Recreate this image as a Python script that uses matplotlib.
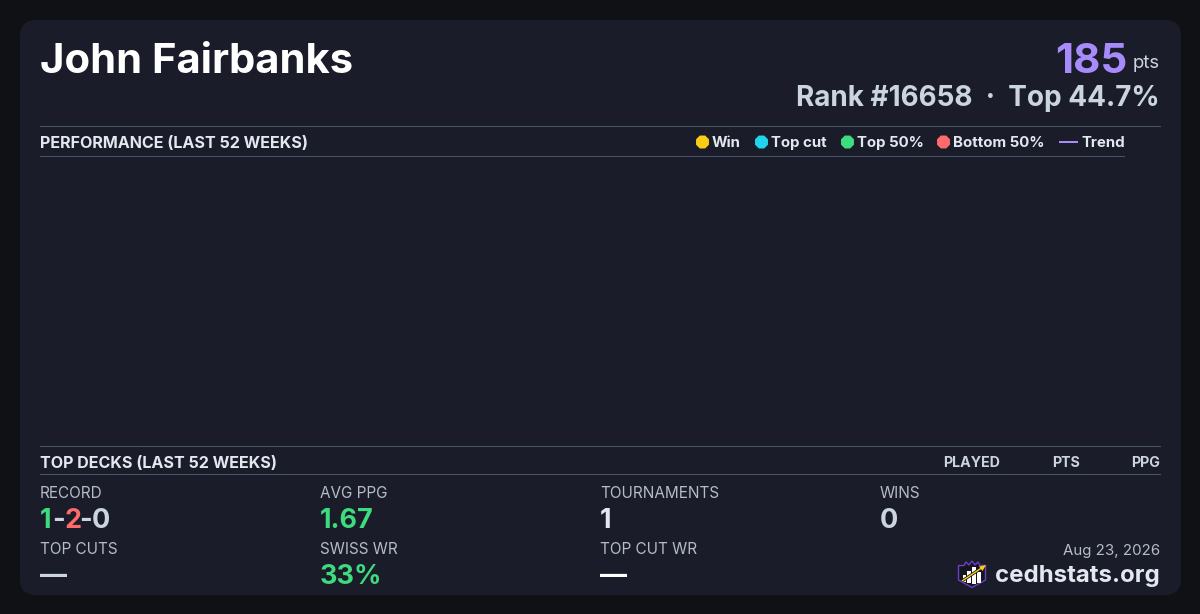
"""Player summary card."""

import math

import matplotlib

matplotlib.use("Agg")
import matplotlib.pyplot as plt
from matplotlib.patches import FancyBboxPatch, Polygon, Rectangle, RegularPolygon

plt.rcParams["font.family"] = ["Inter", "DejaVu Sans"]

BG = "#0f1115"
CARD = "#1a1d29"
RULE = "#475569"
WHITE = "#ffffff"
HEAD = "#e2e8f0"
MUTED = "#cbd5e1"
LABEL = "#b4bcc9"
GREEN = "#3ddc7e"
RED = "#ff6b6b"
PURPLE = "#a78bfa"
YELLOW = "#facc15"

player = "John Fairbanks"
points = "185"
rank_text = "Rank #16658  ·  Top 44.7%"

legend_labels = ["Win", "Top cut", "Top 50%", "Bottom 50%"]
legend_colors = [YELLOW, "#22d3ee", GREEN, RED]
legend_dot_x = [702, 761, 847, 943]

deck_columns = ["PLAYED", "PTS", "PPG"]
deck_column_right = [1000, 1080, 1160]

stat_labels = ["RECORD", "AVG PPG", "TOURNAMENTS", "WINS",
               "TOP CUTS", "SWISS WR", "TOP CUT WR"]
stat_values = [None, "1.67", "1", "0", "—", "33%", "—"]
stat_colors = [None, GREEN, HEAD, MUTED, MUTED, GREEN, WHITE]
stat_x = [40, 320, 600, 880, 40, 320, 600]
stat_label_y = [497.5, 497.5, 497.5, 497.5, 553.5, 553.5, 553.5]
stat_value_y = [528, 528, 528, 528, 584, 584, 584]

record_parts = ["1", "-", "2", "-", "0"]
record_colors = [GREEN, MUTED, RED, MUTED, MUTED]
record_x = [40, 52, 64, 79.5, 91.5]

# logo bars: left edge, top, bottom
logo_bar_left = [962.5, 967, 972, 977]
logo_bar_top = [575, 571, 567, 572]
logo_bar_bottom = [582, 583, 584, 583]
logo_bar_width = [3, 3.7, 3.7, 3.7]


def px(size):
    """Convert a pixel font size to points at 100 dpi."""
    return size * 0.72


def put(ax, x, y, s, size, color, weight="normal", ha="left"):
    return ax.text(x, y, s, fontsize=px(size), color=color, fontweight=weight,
                   ha=ha, va="baseline")


fig = plt.figure(figsize=(12, 6.14), dpi=100, facecolor=BG)
ax = fig.add_axes([0, 0, 1, 1])
ax.set_xlim(0, 1200)
ax.set_ylim(614, 0)
ax.axis("off")

ax.add_patch(FancyBboxPatch((36, 36), 1129, 543,
                            boxstyle="round,pad=16,rounding_size=16",
                            fc=CARD, ec="none"))

put(ax, 40, 73, player, 41.8, WHITE, "bold")
put(ax, 1127, 73, points, 42, PURPLE, "bold", ha="right")
put(ax, 1160, 68, "pts", 18.5, MUTED, ha="right")
put(ax, 1160, 106, rank_text, 27.9, MUTED, "bold", ha="right")

for y, right in [(126.5, 1161), (156.5, 1125), (446.5, 1161), (474.5, 1161)]:
    ax.add_patch(Rectangle((40, y - 0.5), right - 40, 1, fc=RULE, ec="none"))

put(ax, 40, 148, "PERFORMANCE (LAST 52 WEEKS)", 16.1, HEAD, "bold")
put(ax, 40, 468, "TOP DECKS (LAST 52 WEEKS)", 16.1, HEAD, "bold")

for name, color, x in zip(legend_labels, legend_colors, legend_dot_x):
    ax.add_patch(RegularPolygon((x + 0.5, 142), 8, radius=7, orientation=math.pi / 8,
                                fc=color, ec="none"))
    put(ax, x + 10, 147, name, 15, HEAD, "bold")
ax.add_patch(Rectangle((1059, 141), 19, 2, fc=PURPLE, ec="none"))
put(ax, 1081, 147, "Trend", 15, HEAD, "bold")

for name, right in zip(deck_columns, deck_column_right):
    put(ax, right, 467, name, 14.2, MUTED, "bold", ha="right")

for label, value, color, x, ly, vy in zip(stat_labels, stat_values, stat_colors,
                                          stat_x, stat_label_y, stat_value_y):
    put(ax, x, ly, label, 15.3, LABEL)
    if value is not None:
        put(ax, x, vy, value, 27, color, "bold")

for part, color, x in zip(record_parts, record_colors, record_x):
    put(ax, x, 528, part, 27, color, "bold")

put(ax, 1160, 555, "Aug 23, 2026", 15, LABEL, ha="right")
put(ax, 1160, 582, "cedhstats.org", 24, HEAD, "bold", ha="right")

# logo shield
ax.add_patch(Polygon([(958.5, 565.5), (964, 565.5), (966, 562), (969, 565), (972, 561),
                      (975, 565), (978, 562), (980, 565.5), (985.5, 565.5), (985.5, 580),
                      (972, 587.5), (958.5, 580)],
                     closed=True, fc="#14161f", ec="#6d3fc4", lw=1))
for left, top, bottom, width in zip(logo_bar_left, logo_bar_top, logo_bar_bottom,
                                    logo_bar_width):
    ax.add_patch(Rectangle((left, top), width, bottom - top, fc=WHITE, ec="none"))
ax.plot([962, 983], [581, 567], color="#14161f", lw=2.2, zorder=4, solid_capstyle="butt")
ax.plot([962, 983], [581, 567], color=YELLOW, lw=1, zorder=5, solid_capstyle="butt")
ax.add_patch(Polygon([(986, 565), (979, 566.5), (982.5, 571)], closed=True,
                     fc=YELLOW, ec="none", zorder=5))

fig.savefig("out.png", dpi=100, facecolor=BG)
plt.close(fig)
